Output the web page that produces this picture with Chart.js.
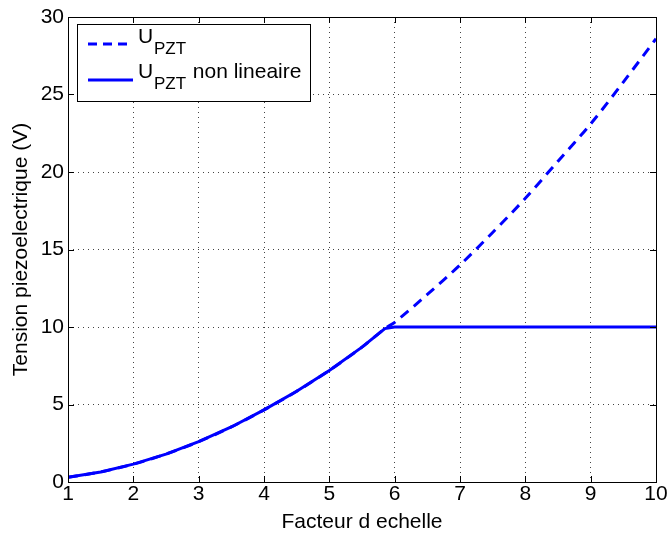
<!DOCTYPE html>
<html>
<head>
<meta charset="utf-8">
<script src="https://cdn.jsdelivr.net/npm/chart.js@4/dist/chart.umd.min.js"></script>
<style>
  body { margin: 0; background: #fff; }
  #wrap { width: 671px; height: 537px; }
</style>
</head>
<body>
<div id="wrap"><canvas id="graph-canva"></canvas></div>
<script>
const canva = document.getElementById("graph-canva");

// values
const factor = [1, 1.5, 2, 2.5, 3, 3.5, 4, 4.5, 5, 5.5, 5.85, 6, 6.5, 7, 7.5, 8, 8.5, 9, 9.5, 10];
const uPzt = [0.3, 0.65, 1.15, 1.8, 2.6, 3.55, 4.65, 5.85, 7.2, 8.7, 9.9, 10.3, 12.1, 14.0, 16.1, 18.3, 20.7, 23.1, 25.8, 28.6];
const uPztNonLin = [0.3, 0.65, 1.15, 1.8, 2.6, 3.55, 4.65, 5.85, 7.2, 8.7, 9.9, 10, 10, 10, 10, 10, 10, 10, 10, 10];
const xTicks = [1, 2, 3, 4, 5, 6, 7, 8, 9, 10];
const yTicks = [0, 5, 10, 15, 20, 25, 30];

const FONT = '"Liberation Sans", Arial, Helvetica, sans-serif';
const BLUE = 'rgb(0, 0, 255)';

function pts(ys) {
  return factor.map((x, i) => ({x: x, y: ys[i]}));
}

// box, inward ticks and legend with subscripts
const matlabLook = {
  id: 'matlabLook',
  afterDraw(chart) {
    const ctx = chart.ctx;
    const a = chart.chartArea;
    const xs = chart.scales.x, ys = chart.scales.y;
    ctx.save();
    ctx.strokeStyle = '#000';
    ctx.lineWidth = 1;
    ctx.beginPath();
    xTicks.forEach(t => {
      const px = Math.round(xs.getPixelForValue(t)) + 0.5;
      ctx.moveTo(px, a.bottom); ctx.lineTo(px, a.bottom - 6);
      ctx.moveTo(px, a.top); ctx.lineTo(px, a.top + 6);
    });
    yTicks.forEach(t => {
      const py = Math.round(ys.getPixelForValue(t)) + 0.5;
      ctx.moveTo(a.left, py); ctx.lineTo(a.left + 6, py);
      ctx.moveTo(a.right, py); ctx.lineTo(a.right - 6, py);
    });
    ctx.stroke();
    ctx.strokeRect(Math.round(a.left) + 0.5, Math.round(a.top) + 0.5,
      Math.round(a.right - a.left), Math.round(a.bottom - a.top));

    // legend
    const lx = 77.5, ly = 24.5, lw = 233, lh = 77;
    ctx.fillStyle = '#fff';
    ctx.fillRect(lx, ly, lw, lh);
    ctx.strokeRect(lx, ly, lw, lh);
    ctx.strokeStyle = BLUE;
    ctx.lineWidth = 3;
    ctx.setLineDash([9, 6]);
    ctx.beginPath(); ctx.moveTo(88, 44); ctx.lineTo(133, 44); ctx.stroke();
    ctx.setLineDash([]);
    ctx.beginPath(); ctx.moveTo(88, 80); ctx.lineTo(133, 80); ctx.stroke();
    ctx.fillStyle = '#000';
    ctx.textBaseline = 'alphabetic';
    ctx.textAlign = 'left';
    const rows = [[43, ''], [78, ' non lineaire']];
    rows.forEach(r => {
      ctx.font = '21px ' + FONT;
      ctx.fillText('U', 138, r[0]);
      ctx.font = '17px ' + FONT;
      ctx.fillText('PZT', 154, r[0] + 11);
      if (r[1]) {
        ctx.font = '21px ' + FONT;
        ctx.fillText(r[1], 187, r[0]);
      }
    });
    ctx.restore();
  }
};

const config = {
  type: 'line',
  data: {
    datasets: [
      {
        label: 'UPZT',
        data: pts(uPzt),
        borderColor: BLUE,
        borderWidth: 3,
        borderDash: [10, 7],
        pointRadius: 0,
        tension: 0.3,
        fill: false
      },
      {
        label: 'UPZT non lineaire',
        data: pts(uPztNonLin),
        borderColor: BLUE,
        borderWidth: 3,
        pointRadius: 0,
        tension: 0,
        fill: false
      }
    ]
  },
  options: {
    responsive: true,
    maintainAspectRatio: false,
    animation: false,
    layout: { padding: { left: 0, right: 15, top: 17, bottom: 0 } },
    plugins: {
      legend: { display: false },
      tooltip: { enabled: false }
    },
    scales: {
      x: {
        type: 'linear',
        min: 1, max: 10,
        afterFit: s => { s.height = 55; },
        afterBuildTicks: s => { s.ticks = xTicks.map(v => ({value: v})); },
        ticks: { color: '#000', font: { family: FONT, size: 21 }, padding: 0, maxRotation: 0 },
        grid: { color: '#444', drawTicks: false, lineWidth: 1 },
        border: { display: false, dash: [1, 4] },
        title: { display: true, text: 'Facteur d echelle', color: '#000', font: { family: FONT, size: 21 }, padding: { top: 0, bottom: 2 } }
      },
      y: {
        min: 0, max: 30,
        afterFit: s => { s.width = 68; },
        afterBuildTicks: s => { s.ticks = yTicks.map(v => ({value: v})); },
        ticks: { color: '#000', font: { family: FONT, size: 21 }, padding: 4 },
        grid: { color: '#444', drawTicks: false, lineWidth: 1 },
        border: { display: false, dash: [1, 4] },
        title: { display: true, text: 'Tension piezoelectrique (V)', color: '#000', font: { family: FONT, size: 21 }, padding: { top: 9, bottom: 0 } }
      }
    }
  },
  plugins: [matlabLook]
};

let chart = new Chart(canva, config);
</script>
</body>
</html>
